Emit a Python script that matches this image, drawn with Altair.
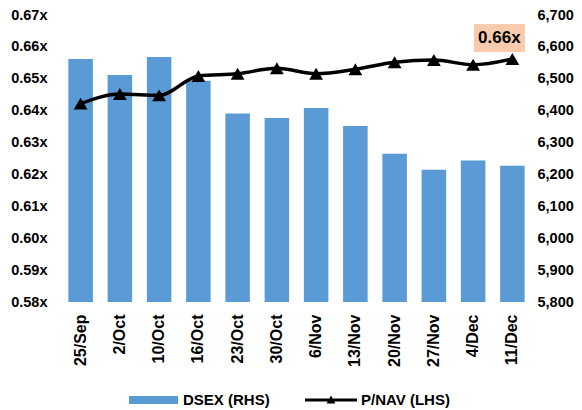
import altair as alt
import pandas as pd

cats = ["25/Sep", "2/Oct", "10/Oct", "16/Oct", "23/Oct", "30/Oct",
        "6/Nov", "13/Nov", "20/Nov", "27/Nov", "4/Dec", "11/Dec"]
dsex = [6562, 6512, 6568, 6494, 6391, 6377, 6408, 6352, 6265, 6215, 6244, 6227]
pnav = [0.6422, 0.6452, 0.6448, 0.6509, 0.6516, 0.6533,
        0.6516, 0.6530, 0.6552, 0.6559, 0.6544, 0.6562]
left_ticks = [0.58, 0.59, 0.60, 0.61, 0.62, 0.63, 0.64, 0.65, 0.66, 0.67]
right_ticks = [5800, 5900, 6000, 6100, 6200, 6300, 6400, 6500, 6600, 6700]

df = pd.DataFrame({"date": cats, "dsex": dsex, "pnav": pnav,
                   "s1": "DSEX (RHS)", "s2": "P/NAV (LHS)"})
last = df.iloc[[-1]].copy()

FONT = "Liberation Sans"

xenc = alt.X("date:N", sort=cats, title=None,
             scale=alt.Scale(paddingInner=0.375, paddingOuter=0.1875),
             axis=alt.Axis(labelAngle=270, labelFontSize=16, labelPadding=12,
                           labelFont=FONT, labelFontWeight="bold", labelColor="black",
                           domain=False, ticks=False, grid=False))

bars = alt.Chart(df).mark_bar(color="#5B9BD5").encode(
    x=xenc,
    y=alt.Y("dsex:Q", title=None,
            scale=alt.Scale(domain=[5800, 6700], zero=False, nice=False),
            axis=alt.Axis(orient="right", values=right_ticks,
                          labelExpr="format(datum.value, ',')",
                          labelFontSize=14.5, labelFont=FONT, labelFontWeight="bold",
                          labelColor="black", labelPadding=5,
                          domain=False, ticks=False, grid=False)),
    y2=alt.datum(5800),
    color=alt.Color("s1:N", scale=alt.Scale(range=["#5B9BD5"]),
                    legend=alt.Legend(title=None, orient="none", legendX=68, legendY=360.5,
                                      direction="horizontal", padding=0,
                                      symbolType="M-1,-0.163H1V0.163H-1Z",
                                      symbolSize=2401, symbolStrokeWidth=0,
                                      labelFont=FONT, labelFontSize=15,
                                      labelFontWeight="bold", labelColor="black",
                                      labelOffset=5)),
)

yl = alt.Y("pnav:Q", title=None,
           scale=alt.Scale(domain=[0.58, 0.67], zero=False, nice=False),
           axis=alt.Axis(orient="left", values=left_ticks,
                         labelExpr="format(datum.value, '.2f') + 'x'",
                         labelFontSize=14.5, labelFont=FONT, labelFontWeight="bold",
                         labelColor="black", labelPadding=14,
                         domain=False, ticks=False, grid=False))

line = alt.Chart(df).mark_line(color="black", strokeWidth=3.5,
                               interpolate="monotone").encode(x=xenc, y=yl)

pts = alt.Chart(df).mark_point(shape="triangle-up", filled=True, size=190,
                               opacity=1).encode(
    x=xenc, y=yl,
    color=alt.Color("s2:N", scale=alt.Scale(range=["black"]),
                    legend=alt.Legend(title=None, orient="none", legendX=244, legendY=359,
                                      direction="horizontal", padding=0,
                                      symbolType="M-1,-0.055H1V0.055H-1Z M-0.17,0.13L0,-0.17L0.17,0.13Z",
                                      symbolSize=2704, symbolStrokeWidth=0,
                                      labelFont=FONT, labelFontSize=15,
                                      labelFontWeight="bold", labelColor="black",
                                      labelOffset=4)),
)

box = alt.Chart(last).mark_point(shape="M-1,-0.55H1V0.55H-1Z", filled=True,
                                 size=2601, color="#F8CBAD", opacity=1,
                                 xOffset=-13, yOffset=-21).encode(x=xenc, y=yl)

txt = alt.Chart(last).transform_calculate(
    lab="format(datum.pnav, '.2f') + 'x'"
).mark_text(font=FONT, fontSize=17, fontWeight="bold", color="black",
            xOffset=-13, yOffset=-21, baseline="middle", align="center").encode(
    x=xenc, y=yl, text="lab:N")

right_layer = alt.layer(line, pts, box, txt)

chart = alt.layer(bars, right_layer).resolve_scale(
    y="independent", color="independent"
).properties(
    width=471, height=287,
    autosize=alt.AutoSizeParams(type="none"),
    padding={"left": 53, "top": 7, "right": 42, "bottom": 108},
).configure_view(stroke=None)

chart.save("out.html", embed_options={"renderer": "svg", "actions": False})
